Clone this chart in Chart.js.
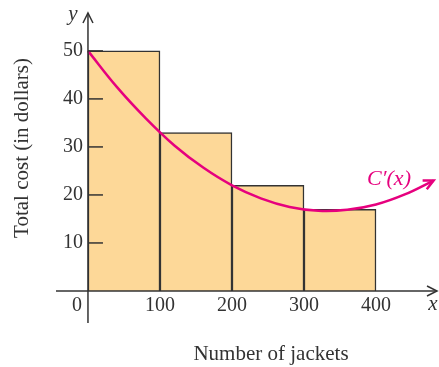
<!DOCTYPE html>
<html>
<head>
<meta charset="utf-8">
<script src="https://cdn.jsdelivr.net/npm/chart.js@4"></script>
<style>
  html, body { margin: 0; padding: 0; background: #fff; }
  #wrap { width: 439px; height: 367px; position: relative; }
</style>
</head>
<body>
<div id="wrap"><canvas id="costChart" width="439" height="367"></canvas></div>
<script>
// Bars: cost per 100-jacket interval
const barMids = [50, 150, 250, 350];
const barCosts = [50, 33, 22, 17];

// Marginal cost curve C'(x)
const curveX = [0, 40, 80, 120, 160, 200, 240, 280, 320, 360, 400, 440, 480];
const curveY = [50, 42.5, 36, 30.3, 25.7, 22, 19.3, 17.5, 16.7, 16.9, 18, 20.1, 23];

const xTicks = [0, 100, 200, 300, 400];
const yTicks = [10, 20, 30, 40, 50];

const axisColor = '#333333';
const curveColor = '#e6007e';
const serif = "'Liberation Serif', 'DejaVu Serif', serif";

// Axes through origin, tick labels, arrowheads, titles
const axesPlugin = {
    id: 'axesPlugin',
    afterDatasetsDraw(chart) {
        const ctx = chart.ctx;
        const xs = chart.scales.x, ys = chart.scales.y;
        const area = chart.chartArea;
        const x0 = xs.getPixelForValue(0);
        const y0 = ys.getPixelForValue(0);

        ctx.save();
        ctx.strokeStyle = axisColor;
        ctx.fillStyle = axisColor;
        ctx.lineWidth = 1.5;

        // x axis
        ctx.beginPath();
        ctx.moveTo(area.left, y0);
        ctx.lineTo(area.right - 1, y0);
        ctx.stroke();
        ctx.beginPath();
        ctx.moveTo(area.right - 11, y0 - 5);
        ctx.lineTo(area.right - 1, y0);
        ctx.lineTo(area.right - 11, y0 + 5);
        ctx.stroke();

        // y axis
        ctx.beginPath();
        ctx.moveTo(x0, area.bottom);
        ctx.lineTo(x0, area.top + 1);
        ctx.stroke();
        ctx.beginPath();
        ctx.moveTo(x0 - 5, area.top + 11);
        ctx.lineTo(x0, area.top + 1);
        ctx.lineTo(x0 + 5, area.top + 11);
        ctx.stroke();

        // y ticks
        ctx.font = '20px ' + serif;
        ctx.textAlign = 'right';
        ctx.textBaseline = 'middle';
        yTicks.forEach(v => {
            const py = ys.getPixelForValue(v);
            ctx.beginPath();
            ctx.moveTo(x0, py);
            ctx.lineTo(x0 + 15, py);
            ctx.stroke();
            ctx.fillText(String(v), x0 - 5, py);
        });

        // x tick labels
        ctx.textAlign = 'center';
        xTicks.forEach(v => {
            const px = v === 0 ? x0 - 11 : xs.getPixelForValue(v);
            ctx.fillText(String(v), px, y0 + 15);
        });

        // axis letters
        ctx.font = 'italic 21px ' + serif;
        ctx.fillText('y', x0 - 15, area.top + 2);
        ctx.fillText('x', area.right - 5, y0 + 14);

        // titles
        ctx.font = '21px ' + serif;
        ctx.fillText('Number of jackets', 271, 354);
        ctx.save();
        ctx.translate(22, 148);
        ctx.rotate(-Math.PI / 2);
        ctx.fillText('Total cost (in dollars)', 0, 0);
        ctx.restore();

        // curve arrowhead and label
        const meta = chart.getDatasetMeta(1);
        const pts = meta.data;
        const last = pts[pts.length - 1];
        const prev = pts[pts.length - 2];
        const cp = last.cp1x !== undefined ? {x: last.cp1x, y: last.cp1y} : prev;
        const ang = Math.atan2(last.y - cp.y, last.x - cp.x);
        ctx.strokeStyle = curveColor;
        ctx.lineWidth = 2.5;
        ctx.beginPath();
        ctx.moveTo(last.x - 11 * Math.cos(ang - 0.45), last.y - 11 * Math.sin(ang - 0.45));
        ctx.lineTo(last.x, last.y);
        ctx.lineTo(last.x - 11 * Math.cos(ang + 0.45), last.y - 11 * Math.sin(ang + 0.45));
        ctx.stroke();

        ctx.fillStyle = curveColor;
        ctx.font = 'italic 22px ' + serif;
        ctx.fillText("C\u2032(x)", 389, 179);
        ctx.restore();
    }
};

const ctx = document.getElementById('costChart').getContext('2d');
const costChart = new Chart(ctx, {
    data: {
        datasets: [{
            type: 'bar',
            data: barMids.map((m, i) => ({x: m, y: barCosts[i]})),
            backgroundColor: '#fdd898',
            borderColor: axisColor,
            borderWidth: 1.5,
            borderSkipped: 'bottom',
            barPercentage: 1,
            categoryPercentage: 1,
            order: 2
        }, {
            type: 'line',
            data: curveX.map((x, i) => ({x: x, y: curveY[i]})),
            borderColor: curveColor,
            borderWidth: 2.5,
            pointRadius: 0,
            tension: 0.4,
            fill: false,
            order: 1
        }]
    },
    options: {
        responsive: false,
        animation: false,
        layout: {
            padding: { left: 56, right: 1, top: 12, bottom: 44 }
        },
        scales: {
            x: {
                type: 'linear',
                display: false,
                offset: false,
                min: -44.4,
                max: 486.1,
                ticks: { stepSize: 100, includeBounds: false }
            },
            y: {
                type: 'linear',
                display: false,
                min: -6.67,
                max: 58.1
            }
        },
        plugins: {
            legend: { display: false },
            tooltip: { enabled: false }
        }
    },
    plugins: [axesPlugin]
});
</script>
</body>
</html>
